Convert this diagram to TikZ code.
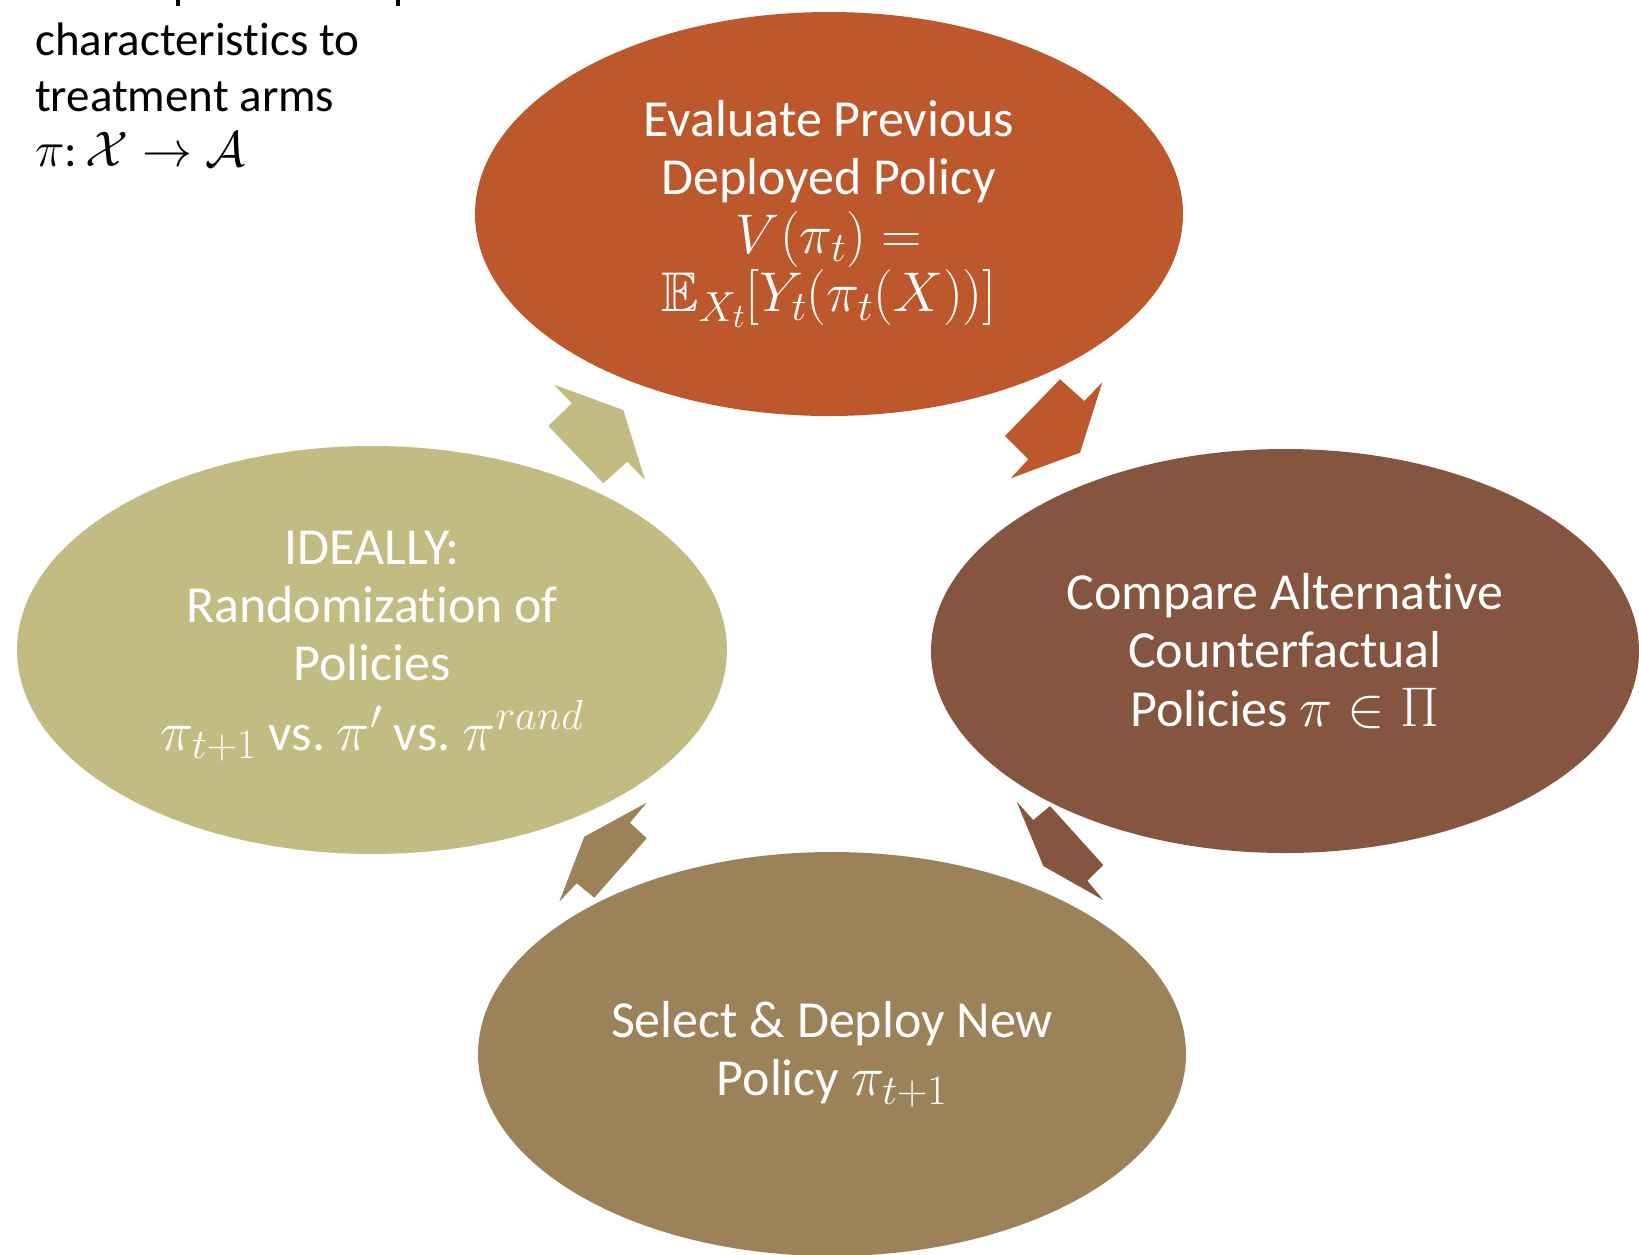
\RequirePackage{fix-cm}
\documentclass[tikz,border=0pt]{standalone}
\usepackage{amsmath,amssymb}
\usepackage[no-math]{fontspec}
\setmainfont[RawFeature={-liga;-clig;-dlig;-calt}]{Carlito}
\usetikzlibrary{shapes.geometric}

% slightly larger maths and roomier scripts for the big labels
\DeclareMathSizes{52}{56}{42}{34}
\DeclareMathSizes{47}{50}{38}{31}

\definecolor{rust}{RGB}{189,88,45}
\definecolor{cocoa}{RGB}{133,85,64}
\definecolor{khaki}{RGB}{195,188,130}
\definecolor{umber}{RGB}{156,130,88}

\begin{document}
\begin{tikzpicture}[x=1pt,y=-1pt,
  stage/.style={ellipse, inner sep=0pt, text=white, align=center,
    minimum width=708pt, minimum height=404pt,
    font=\fontsize{52}{58.5}\selectfont},
  stagetext/.style={inner sep=0pt, text=white, align=center,
    font=\fontsize{52}{58}\selectfont},
  note/.style={inner sep=0pt, text=black, align=left,
    font=\fontsize{47}{55.5}\selectfont}]

\useasboundingbox (0,0) rectangle (1639,1254);

\begin{scope}
\clip (0,0) rectangle (1639,1254);

% four stages of the policy learning cycle
\node[stage, fill=rust] (evaluate) at (829,214)
  {Evaluate Previous\\Deployed Policy\\$V(\pi_t)=$\\$\mathbb{E}_{X_t}[Y_t(\pi_t(X))]$};
\node[stage, fill=cocoa] (compare) at (1285,651)
  {Compare Alternative\\Counterfactual\\Policies $\pi\in\Pi$};
\node[stage, fill=umber] (deploy) at (832,1054)
  {Select \& Deploy New\\Policy $\pi_{t+1}$};
\node[stage, fill=khaki, minimum width=710pt, minimum height=408pt] (randomize) at (372,650) {};
% its label: three text lines (anchored at the last baseline) and a line of policies
\node[stagetext, anchor=base] (randtext) at (372,680)
  {IDEALLY:\\Randomization of\\Policies};
\node[stagetext, anchor=base] (randmath) at (372,750)
  {$\pi_{t+1}$ vs.\ $\pi'$ vs.\ $\pi^{rand}$};

% block arrows between the stages
\fill[rust]  (1060.0,379.3) -- (1084.3,401.0) -- (1102.3,382.3) -- (1080.0,452.7)
  -- (1010.7,478.3) -- (1028.3,459.3) -- (1005.0,436.0) -- cycle;
\fill[cocoa] (1050.0,806.0) -- (1103.3,865.0) -- (1087.3,880.7) -- (1103.3,900.0)
  -- (1043.3,866.0) -- (1016.7,801.7) -- (1033.3,820.0) -- cycle;
\fill[umber] (646.7,838.3) -- (594.3,897.7) -- (576.7,883.3) -- (559.3,901.7)
  -- (584.3,836.7) -- (646.7,802.7) -- (630.0,822.7) -- cycle;
\fill[khaki] (548.3,426.0) -- (603.3,483.3) -- (627.3,461.7) -- (645.0,480.0)
  -- (623.3,410.0) -- (554.0,384.7) -- (571.7,403.3) -- cycle;

% definition of a policy (anchored at the baseline of its last line)
\node[note, anchor=base west] (definition) at (35,166.5)
  {characteristics to\\treatment arms\\$\pi$:\,$\mathcal{X}\to\mathcal{A}$};

% tails of the line above, cut by the top edge
\fill[black] (176,0) rectangle (180,6);
\fill[black] (396,0) rectangle (400,6);
\end{scope}
\end{tikzpicture}
\end{document}
